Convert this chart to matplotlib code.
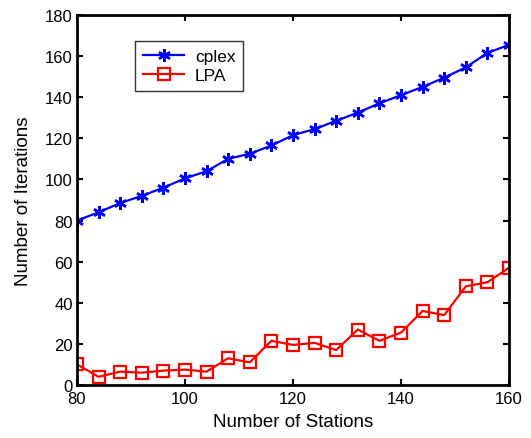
import numpy as np
import matplotlib
matplotlib.use("Agg")
import matplotlib.pyplot as plt

plt.rcParams['font.family'] = ['Liberation Sans', 'DejaVu Sans']

stations = [80, 84, 88, 92, 96, 100, 104, 108, 112, 116, 120,
            124, 128, 132, 136, 140, 144, 148, 152, 156, 160]
cplex_iters = [80, 84, 88.5, 92, 96, 100.5, 104, 110, 112.5, 116.5, 121.5,
               124.5, 128.5, 132.5, 137, 141, 145, 149.5, 154.5, 161.5, 165.5]
lpa_iters = [10, 4, 6.5, 6, 7, 7.5, 6.5, 13, 11, 21.5, 19.5,
             20.5, 17, 27, 21.5, 25.5, 36, 34, 48, 50, 57]

xticks = [80, 100, 120, 140, 160]
yticks = [0, 20, 40, 60, 80, 100, 120, 140, 160, 180]

fig = plt.figure(figsize=(5.31, 4.39), dpi=100)
ax = fig.add_axes([0.145, 0.1207, 0.8136, 0.843])

ax.plot(stations, cplex_iters, color='#0000ff', lw=1.6,
        marker=(6, 2, 0), markersize=9, markeredgewidth=1.8, label='cplex')
ax.plot(stations, lpa_iters, color='#ff0000', lw=1.6,
        marker='s', markersize=8, markerfacecolor='none',
        markeredgewidth=1.6, label='LPA')

ax.set_xlim(80, 160)
ax.set_ylim(0, 180)
ax.set_xticks(xticks)
ax.set_yticks(yticks)
ax.tick_params(direction='in', top=True, right=True, length=4, width=1.5,
               labelsize=12, pad=3)
ax.tick_params(axis='x', pad=4)
for sp in ax.spines.values():
    sp.set_linewidth(2)

ax.set_xlabel('Number of Stations', fontsize=13.5, labelpad=5)
ax.set_ylabel('Number of Iterations', fontsize=13.5, labelpad=9)

leg = ax.legend(loc='upper left', bbox_to_anchor=(0.134, 0.93), fontsize=12.5,
                frameon=True, fancybox=False, edgecolor='black',
                borderpad=0.45, handlelength=2.4, handletextpad=0.6,
                labelspacing=0.25, borderaxespad=0)
leg.get_frame().set_linewidth(1.0)

fig.savefig('out.png', dpi=100, facecolor='white')
